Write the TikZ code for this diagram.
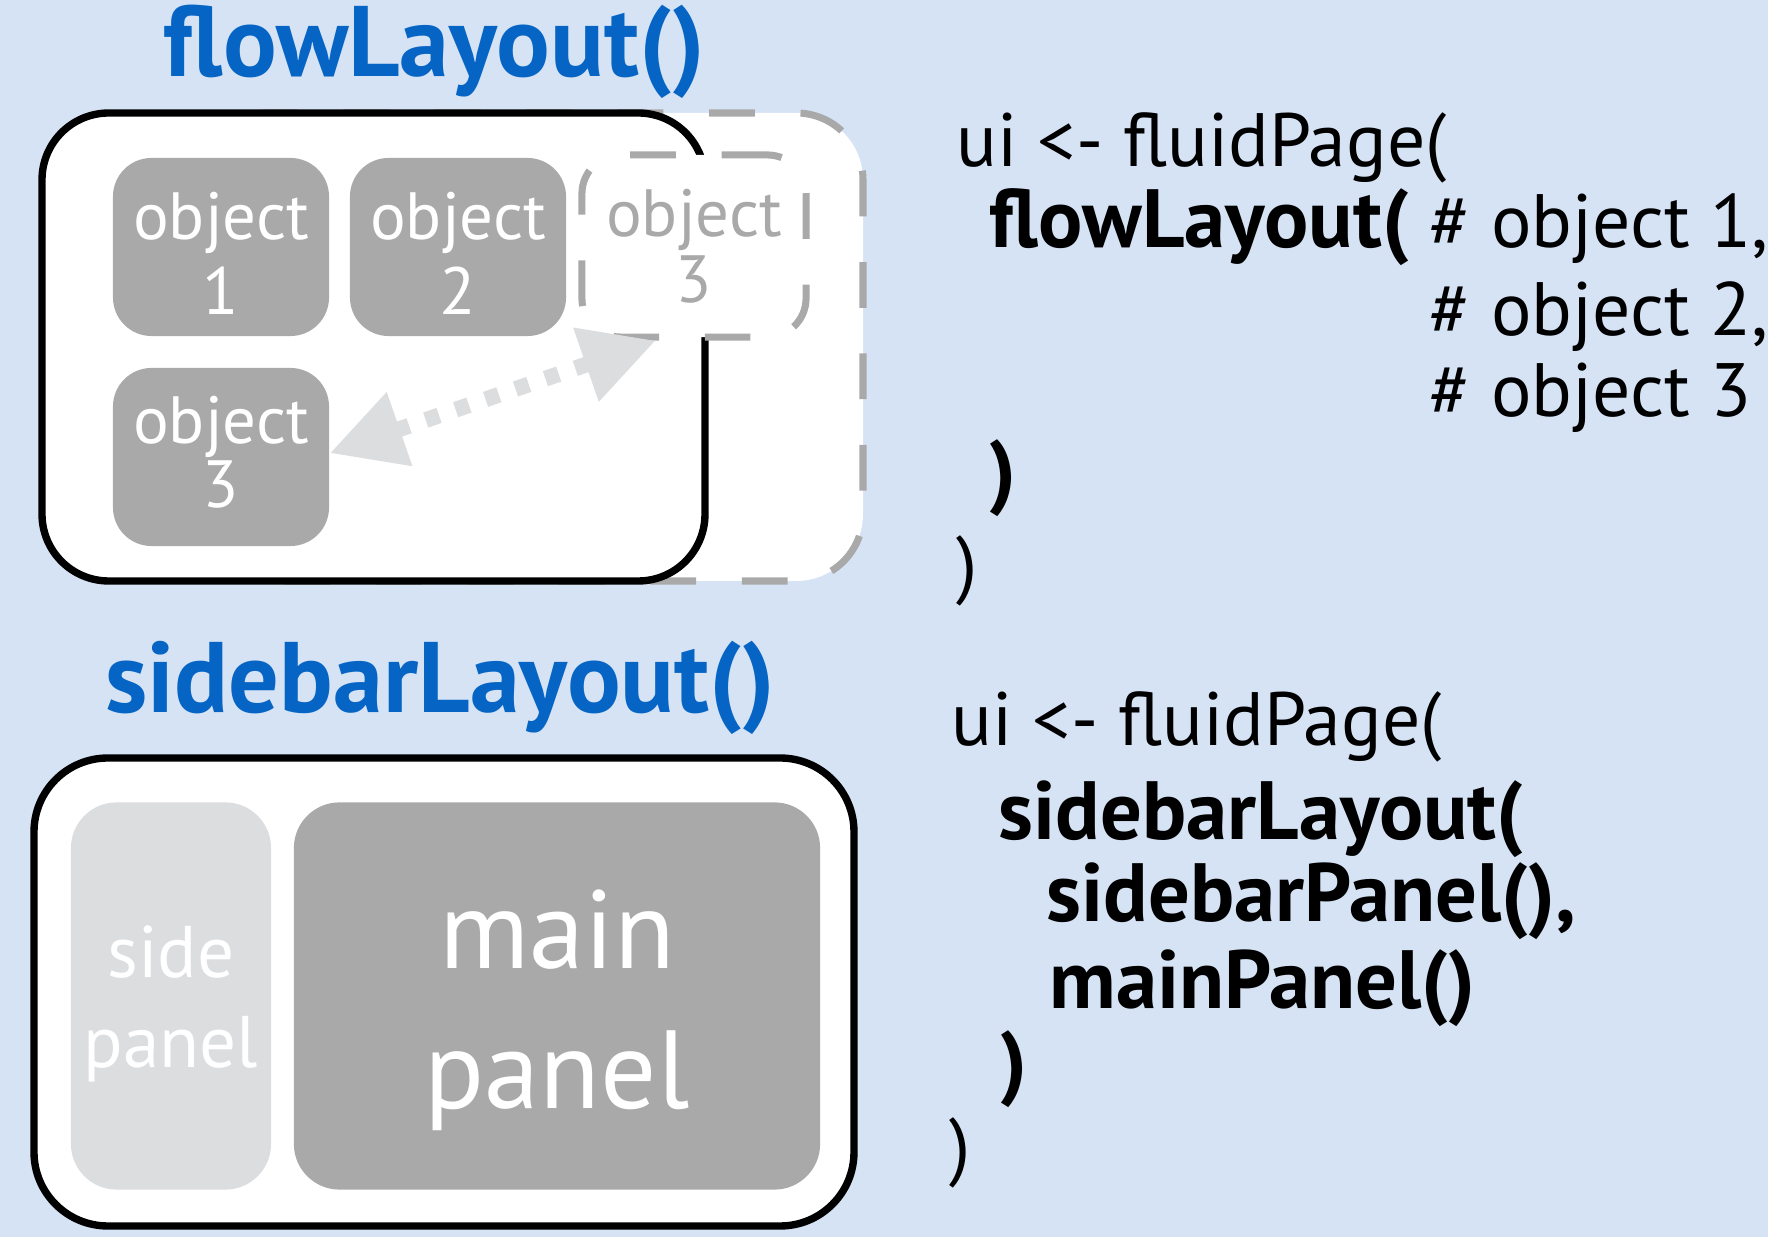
\documentclass[tikz,border=0pt]{standalone}
\usepackage{fontspec}
\setmainfont{PT Sans}
\usetikzlibrary{arrows.meta}
\definecolor{PageBlue}{RGB}{213,227,245}
\definecolor{TitleBlue}{RGB}{6,101,196}
\definecolor{BoxGray}{RGB}{168,169,168}
\definecolor{LightGray}{RGB}{220,221,223}

\begin{document}
\begin{tikzpicture}[x=0.01cm, y=-0.01cm,
  title/.style={anchor=base west, inner sep=0, text=TitleBlue, font=\fontsize{28.5}{32}\selectfont\bfseries},
  code/.style={anchor=base west, inner sep=0, font=\fontsize{21.5}{25}\selectfont},
  boldcode/.style={code, font=\fontsize{23.5}{27}\selectfont\bfseries},
  frame/.style={draw=black, line width=2.1pt, fill=white},
  ghost/.style={draw=BoxGray, line width=2pt, fill=white, dash pattern=on 13pt off 13pt},
  objbox/.style={fill=BoxGray, text=white, rounded corners=11pt, inner sep=0, align=center, text height=38.4pt,
    minimum width=2.16cm, minimum height=1.78cm, font=\fontsize{19}{21.3}\selectfont},
  panelbox/.style={text=white, rounded corners=13pt, inner sep=0, align=center, minimum height=3.87cm}]
	\useasboundingbox (0,0) rectangle (1768,1237);
	\fill[PageBlue] (0,0) rectangle (1768,1237);
	
	% flowLayout()
	\node[title] (flowtitle) at (163,77) {flowLayout()};
	\draw[ghost, rounded corners=19pt] (200,113) rectangle (863,581);
	\draw[frame, rounded corners=19pt] (42,113) rectangle (705,581);
	
	\node[objbox] (obja) at (221,247) {object\\1};
	\node[objbox] (objb) at (458,247) {object\\2};
	\node[objbox, ghost, text=BoxGray, minimum width=2.24cm, minimum height=1.82cm, text height=32.4pt,
	  font=\fontsize{19}{18.8}\selectfont] (objold) at (694,246) {object\\3};
	\node[objbox, text height=28.7pt, font=\fontsize{19}{18.2}\selectfont] (objc) at (221,457) {object\\3};
	
	\draw[LightGray, line width=4.5pt, dash pattern=on 4pt off 5pt,
	  {Triangle[length=21pt,width=21pt]}-{Triangle[length=21pt,width=21pt]}] (objc.2) -- (objold.248);
	
	% sidebarLayout()
	\node[title] (sidetitle) at (105,713) {sidebarLayout()};
	\draw[frame, rounded corners=21pt] (34,758) rectangle (854,1226);
	
	\node[panelbox, fill=LightGray, minimum width=2cm, text height=44.7pt, font=\fontsize{20.8}{25.6}\selectfont] (sidepanel) at (171,996) {side\\panel};
	\node[panelbox, fill=BoxGray, minimum width=5.26cm, text height=70.4pt, font=\fontsize{31.6}{39.8}\selectfont] (mainpanel) at (557,996) {main\\panel};
	
	% code, top
	\node[code] (uitop) at (956,167) {ui <- fluidPage(};
	\node[boldcode] (flowcall) at (989,248) {flowLayout(};
	\node[code] (commone) at (1429,248) {\# object 1,};
	\node[code] (commtwo) at (1429,336) {\# object 2,};
	\node[code] (commthree) at (1429,417) {\# object 3};
	\node[boldcode] (flowclose) at (989,499) {)};
	\node[code] (uitopclose) at (956,590) {)};
	
	% code, bottom
	\node[code] (uibot) at (951,746) {ui <- fluidPage(};
	\node[boldcode] (sidecall) at (998,840) {sidebarLayout(};
	\node[boldcode] (sidepanelcall) at (1046,922) {sidebarPanel(),};
	\node[boldcode] (mainpanelcall) at (1049,1009) {mainPanel()};
	\node[boldcode] (sideclose) at (1000,1090) {)};
	\node[code] (uibotclose) at (949,1172) {)};
\end{tikzpicture}
\end{document}
